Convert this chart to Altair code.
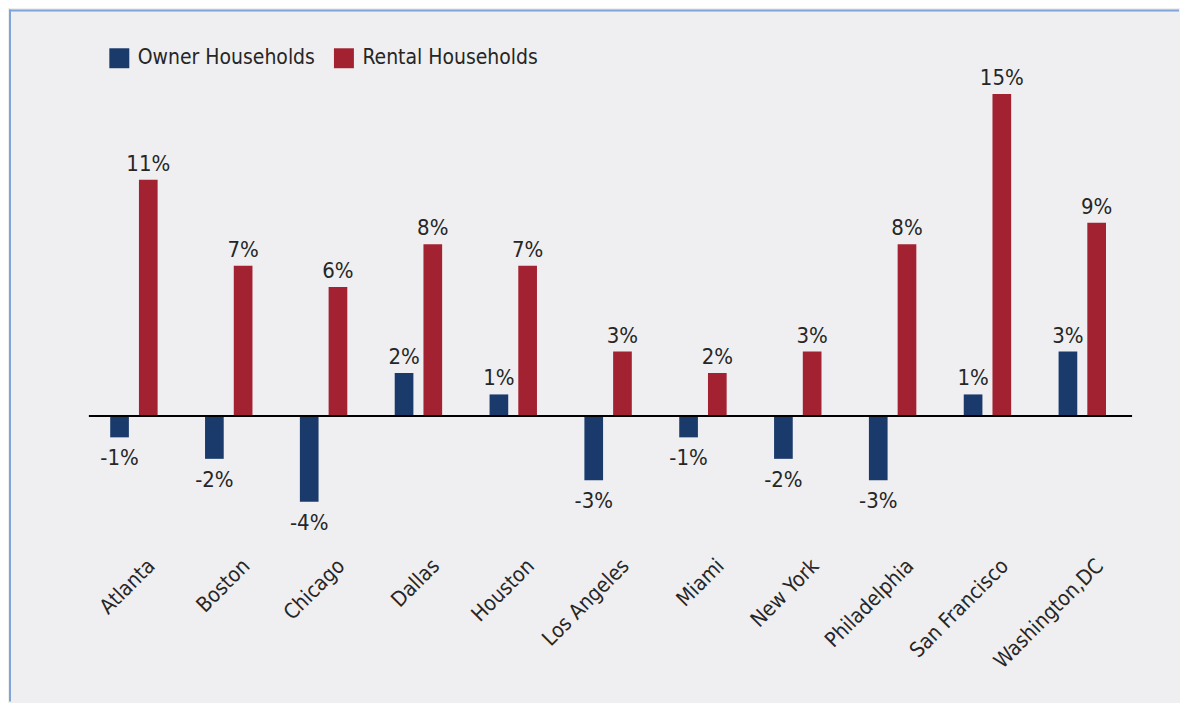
import altair as alt
import pandas as pd

cities = ["Atlanta", "Boston", "Chicago", "Dallas", "Houston", "Los Angeles",
          "Miami", "New York", "Philadelphia", "San Francisco", "Washington,DC"]
owner = [-1, -2, -4, 2, 1, -3, -1, -2, -3, 1, 3]
rental = [11, 7, 6, 8, 7, 3, 2, 3, 8, 15, 9]
series = ["Owner Households", "Rental Households"]
colors = ["#1a3a6b", "#a22231"]

rows = []
for c, o, r in zip(cities, owner, rental):
    rows.append({"city": c, "type": series[0], "value": o})
    rows.append({"city": c, "type": series[1], "value": r})
df = pd.DataFrame(rows)
df["label"] = df["value"].map(lambda v: f"{v}%")

W, H = 1045, 473
FONT = "DejaVu Sans Condensed, Liberation Sans Narrow, Roboto, sans-serif"
TXT = "#262626"

x = alt.X("city:N", sort=cities, title=None,
          scale=alt.Scale(paddingInner=0.5, paddingOuter=0.25, align=0.45),
          axis=alt.Axis(labelAngle=-45, labelAlign="right", labelBaseline="middle",
                        labelFontSize=21, labelFont=FONT, labelColor=TXT,
                        labelPadding=18, labelOffset=18, ticks=False, domain=False))
xo = alt.XOffset("type:N", sort=series, scale=alt.Scale(paddingInner=0.35))
y = alt.Y("value:Q", scale=alt.Scale(domain=[-6, 16], nice=False), axis=None)

base = alt.Chart(df)

bars = base.mark_bar().encode(
    x=x, xOffset=xo, y=y,
    color=alt.Color("type:N", sort=series,
                    scale=alt.Scale(domain=series, range=colors),
                    legend=alt.Legend(title=None, orient="none", legendX=20, legendY=-25,
                                      direction="horizontal", symbolType="square",
                                      symbolSize=400, symbolStrokeWidth=0,
                                      labelFontSize=21, labelFont=FONT, labelColor=TXT,
                                      labelLimit=400,
                                      columnPadding=18, labelOffset=8, padding=0)),
)

pos = base.transform_filter("datum.value >= 0").mark_text(
    baseline="alphabetic", dy=-9, fontSize=22, font=FONT, color=TXT
).encode(x=x, xOffset=xo, y=y, text="label:N")

neg = base.transform_filter("datum.value < 0").mark_text(
    baseline="top", dy=11, fontSize=22, font=FONT, color=TXT
).encode(x=x, xOffset=xo, y=y, text="label:N")

zero_df = pd.DataFrame({"value": [0]})
zero = alt.Chart(zero_df).mark_rule(color="#000000", strokeWidth=2).encode(y=y)

frame_df = pd.DataFrame({"k": [0]})
top_border = alt.Chart(frame_df).mark_rule(color="#7ea4d8", strokeWidth=2).encode(
    x=alt.value(-80), x2=alt.value(W + 47), y=alt.value(-62))
left_border = alt.Chart(frame_df).mark_rule(color="#7ea4d8", strokeWidth=2).encode(
    x=alt.value(-79), y=alt.value(-63), y2=alt.value(H + 157))

chart = alt.layer(bars, zero, pos, neg, top_border, left_border).properties(
    width=W, height=H,
    padding=0,
    background="#efeff1",
).configure_view(stroke=None)

chart.save("out.html", embed_options={"renderer": "svg", "actions": False})
